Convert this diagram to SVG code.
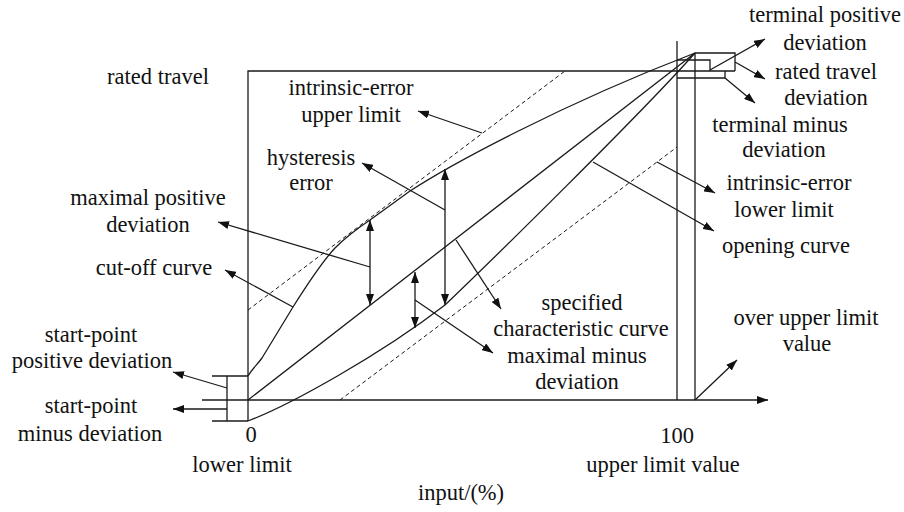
<svg xmlns="http://www.w3.org/2000/svg" width="904" height="512" viewBox="0 0 904 512">
<style>
.t{font-family:"Liberation Serif","Times New Roman",serif;font-size:22.5px;fill:#111;text-anchor:middle}
.ln{stroke:#1a1a1a;stroke-width:1.3;fill:none}
.ds{stroke:#1a1a1a;stroke-width:1;fill:none;stroke-dasharray:4 3}
.ar{stroke:#1a1a1a;stroke-width:1.3;fill:none;marker-end:url(#ah)}
.da{stroke:#1a1a1a;stroke-width:1.3;fill:none;marker-start:url(#ah);marker-end:url(#ah)}
</style>
<defs>
<marker id="ah" viewBox="0 0 11 8" refX="11" refY="4" markerWidth="11" markerHeight="8" markerUnits="userSpaceOnUse" orient="auto-start-reverse">
<path d="M0,0 L11,4 L0,8 z" fill="#111"/>
</marker>
</defs>
<rect width="904" height="512" fill="#fff"/>
<g id="frame">
<path class="ln" d="M248,421 V71 H735"/>
<path class="ln" d="M677,41 V400"/>
<path class="ln" d="M695,53 V400"/>
<path class="ln" d="M695,53 H735 V71"/>
<path class="ln" d="M677,60 H710 V71"/>
<path class="ln" d="M677,78 H725 V71"/>
<path class="ln" d="M212,376 H248"/>
<path class="ln" d="M212,421 H248"/>
<path class="ln" d="M227,376 V421"/>
</g>
<g id="curves">
<path class="ln" id="specified-curve" d="M248,400 L695,53"/>
<path class="ln" id="cutoff-curve" d="M248,376 C252,369 257,365 262,358 L293,307 C310,280 322,262 335,248 C345,238 355,230 370,220 L410,191 C450,165 560,105 695,53"/>
<path class="ln" id="opening-curve" d="M248,421 C290,405 380,355 445,305 C490,262 640,115 695,53"/>
<path class="ds" id="upper-limit" d="M248,310 L565,71"/>
<path class="ds" id="lower-limit" d="M340,400 L677,147"/>
</g>
<g id="connectors">
<path class="ar" d="M202,400 H768"/>
<path class="ar" d="M710,70 L765,39"/>
<path class="ar" d="M735,62 L765,79"/>
<path class="ar" d="M725,78 L755,103"/>
<path class="ar" d="M482,133 L418,111"/>
<path class="ar" d="M445,210 L362,163"/>
<path class="da" d="M445,169 V305"/>
<path class="da" d="M370,220 V305"/>
<path class="ar" d="M370,267 L218,222"/>
<path class="ar" d="M293,307 L225,270"/>
<path class="da" d="M415,272 V328"/>
<path class="ar" d="M415,300 L493,353"/>
<path class="ar" d="M456,240 L501,309"/>
<path class="ar" d="M593,162 L714,231"/>
<path class="ar" d="M657,162 L715,193"/>
<path class="ar" d="M695,400 L737,360"/>
<path class="ar" d="M227,388 L173,372"/>
<path class="ar" d="M227,409 L173,409"/>
</g>
<g id="label-rated-travel"><text class="t" x="158" y="84">rated travel</text></g>
<g id="label-intrinsic-upper"><text class="t" x="351" y="95">intrinsic-error</text><text class="t" x="351" y="122">upper limit</text></g>
<g id="label-hysteresis"><text class="t" x="311" y="165">hysteresis</text><text class="t" x="311" y="190">error</text></g>
<g id="label-max-positive"><text class="t" x="148" y="205">maximal positive</text><text class="t" x="148" y="232">deviation</text></g>
<g id="label-cutoff"><text class="t" x="154" y="275">cut-off curve</text></g>
<g id="label-start-positive"><text class="t" x="91" y="342">start-point</text><text class="t" x="92" y="368">positive deviation</text></g>
<g id="label-start-minus"><text class="t" x="91" y="413">start-point</text><text class="t" x="90" y="441">minus deviation</text></g>
<g id="label-zero"><text class="t" x="251" y="442">0</text></g>
<g id="label-lower-limit"><text class="t" x="242" y="472">lower limit</text></g>
<g id="label-input"><text class="t" x="461" y="500">input/(%)</text></g>
<g id="label-100"><text class="t" x="677" y="443">100</text></g>
<g id="label-upper-limit-value"><text class="t" x="663" y="472">upper limit value</text></g>
<g id="label-over-upper"><text class="t" x="806" y="325">over upper limit</text><text class="t" x="807" y="351">value</text></g>
<g id="label-specified"><text class="t" x="582" y="310">specified</text><text class="t" x="581" y="336">characteristic curve</text></g>
<g id="label-max-minus"><text class="t" x="577" y="363">maximal minus</text><text class="t" x="577" y="389">deviation</text></g>
<g id="label-terminal-positive"><text class="t" x="825" y="22">terminal positive</text><text class="t" x="825" y="50">deviation</text></g>
<g id="label-rated-travel-dev"><text class="t" x="826" y="79">rated travel</text><text class="t" x="826" y="105">deviation</text></g>
<g id="label-terminal-minus"><text class="t" x="780" y="132">terminal minus</text><text class="t" x="784" y="157">deviation</text></g>
<g id="label-intrinsic-lower"><text class="t" x="789" y="190">intrinsic-error</text><text class="t" x="784" y="217">lower limit</text></g>
<g id="label-opening"><text class="t" x="786" y="253">opening curve</text></g>
</svg>
